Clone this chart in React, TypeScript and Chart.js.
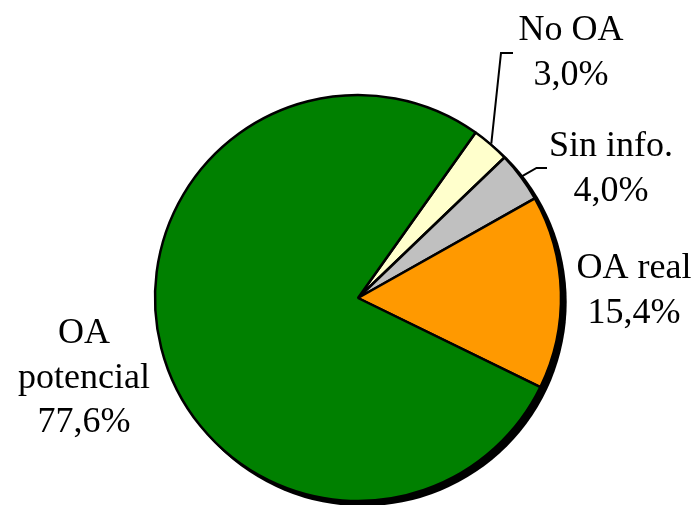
import React, { useEffect, useRef } from "react";
import { Chart, registerables } from "chart.js";

Chart.register(...registerables);

const categories: string[][] = [["No OA"], ["Sin info."], ["OA real"], ["OA", "potencial"]];
const values: number[] = [3.0, 4.0, 15.4, 77.6];
const colors: string[] = ["#FFFFCC", "#C0C0C0", "#FF9900", "#008000"];
// label anchor offsets from pie centre (first baseline), and leader-line elbows
const labelOffsets: number[][] = [[213, -258], [253, -142], [276, -20], [-274, 45]];
const leaderElbows: (number[] | null)[] = [[143, -245, 155, -245], [178.5, -130, 189, -130], null, null];

const FONT = "36px 'Liberation Serif', serif";
const LINE_H = 44.5;

const fmt = (v: number) => v.toFixed(1).replace(".", ",") + "%";

const shadowPlugin = {
  id: "pieShadow",
  beforeDatasetsDraw(chart: any) {
    const arc = chart.getDatasetMeta(0).data[0];
    if (!arc) return;
    const ctx = chart.ctx;
    ctx.save();
    ctx.fillStyle = "#000";
    ctx.beginPath();
    ctx.arc(arc.x + 4.5, arc.y + 4, arc.outerRadius + 1.2, 0, Math.PI * 2);
    ctx.fill();
    ctx.restore();
  },
};

const labelPlugin = {
  id: "pieLabels",
  afterDatasetsDraw(chart: any) {
    const meta = chart.getDatasetMeta(0);
    const ctx = chart.ctx;
    ctx.save();
    ctx.font = FONT;
    ctx.fillStyle = "#000";
    ctx.textAlign = "center";
    ctx.textBaseline = "alphabetic";
    meta.data.forEach((arc: any, i: number) => {
      const cx = arc.x;
      const cy = arc.y;
      const lines = [...categories[i], fmt(values[i])];
      const [ox, oy] = labelOffsets[i];
      lines.forEach((t, k) => ctx.fillText(t, cx + ox, cy + oy + k * LINE_H));
      const el = leaderElbows[i];
      if (el) {
        const mid = (arc.startAngle + arc.endAngle) / 2;
        const r = arc.outerRadius + 1;
        ctx.strokeStyle = "#000";
        ctx.lineWidth = 2;
        ctx.beginPath();
        ctx.moveTo(cx + Math.cos(mid) * r, cy + Math.sin(mid) * r);
        ctx.lineTo(cx + el[0], cy + el[1]);
        ctx.lineTo(cx + el[2], cy + el[3]);
        ctx.stroke();
      }
    });
    ctx.restore();
  },
};

export default function App() {
  const ref = useRef<HTMLCanvasElement | null>(null);
  useEffect(() => {
    if (!ref.current) return;
    const chart = new Chart(ref.current, {
      type: "pie",
      data: {
        labels: categories.map((c) => c.join(" ")),
        datasets: [
          {
            data: values,
            backgroundColor: colors,
            borderColor: "#000",
            borderWidth: 2.5,
          },
        ],
      },
      options: {
        responsive: false,
        animation: false,
        rotation: 35.4,
        radius: 203,
        layout: { padding: { left: 16, top: 91, right: 0, bottom: 0 } },
        plugins: {
          legend: { display: false },
          tooltip: { enabled: false },
        },
      },
      plugins: [shadowPlugin, labelPlugin],
    });
    return () => chart.destroy();
  }, []);
  return (
    <div style={{ position: "fixed", left: 0, top: 0, width: 700, height: 505, background: "#fff" }}>
      <canvas ref={ref} width={700} height={505} />
    </div>
  );
}
